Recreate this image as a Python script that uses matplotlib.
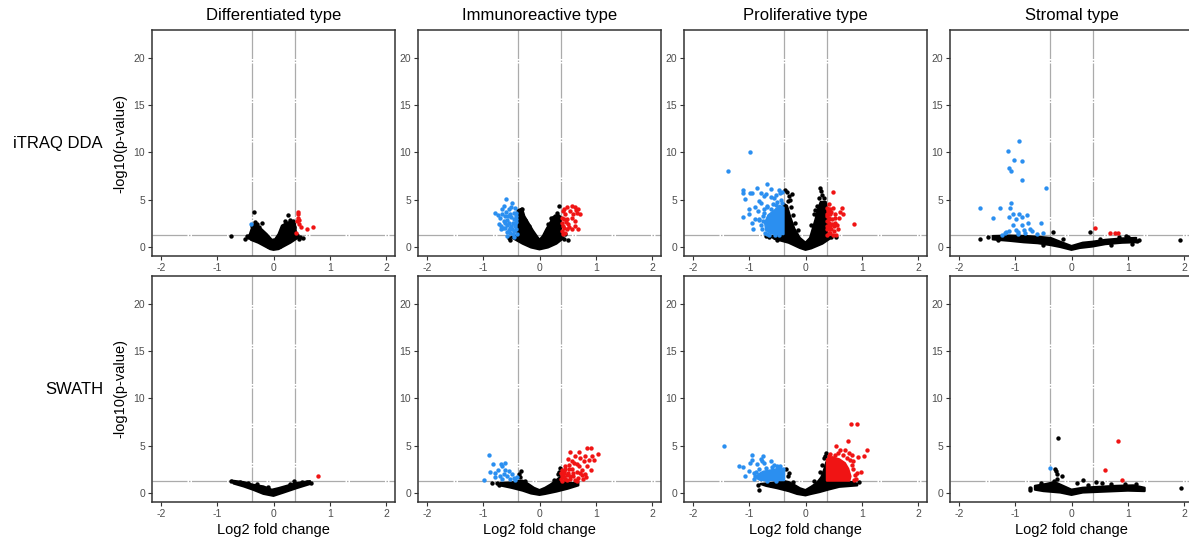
import matplotlib
matplotlib.use("Agg")
import matplotlib.pyplot as plt

plt.rcParams["font.family"] = ["Liberation Sans", "DejaVu Sans"]

COLUMNS = ["Differentiated type", "Immunoreactive type", "Proliferative type", "Stromal type"]
ROWS = ["iTRAQ DDA", "SWATH"]
X_TICKS = [-2, -1, 0, 1, 2]
Y_TICKS = [0, 5, 10, 15, 20]
FC_CUT = 0.38      # log2 fold change cut-off
P_CUT = 1.3        # -log10(0.05)

# ---------- iTRAQ DDA / Differentiated ----------
DIFF_DDA_CORE_X = [-0.38, -0.44, -0.40, -0.27, -0.06, 0.0, 0.09, 0.30, 0.44, 0.40, 0.38, 0.30, 0.24, 0.15, 0.09, 0.03, -0.03, -0.12, -0.21, -0.30, -0.36]
DIFF_DDA_CORE_Y = [2.1, 1.05, 0.8, 0.5, -0.17, -0.25, -0.17, 0.5, 1.05, 1.57, 2.5, 2.7, 2.6, 2.3, 1.4, 0.87, 0.8, 1.4, 1.9, 2.3, 2.4]
DIFF_DDA_BLACK_X = [-0.355, 0.25, -0.76, -0.5, -0.45, 0.52, -0.21, -0.30, 0.30, 0.35, -0.38, -0.42, 0.42, 0.46, -0.1, 0.12,
                    -0.33, -0.26, 0.2, 0.33, 0.37, -0.47, 0.47]
DIFF_DDA_BLACK_Y = [3.77, 3.4, 1.22, 0.94, 1.1, 0.98, 2.55, 2.5, 2.9, 2.8, 2.3, 1.3, 1.3, 0.9, 0.2, 0.2,
                    2.7, 2.2, 2.8, 2.6, 2.2, 1.2, 1.1]
DIFF_DDA_BLUE_X = [-0.4]
DIFF_DDA_BLUE_Y = [2.5]
DIFF_DDA_RED_X = [0.43, 0.43, 0.43, 0.41, 0.46, 0.49, 0.59, 0.70, 0.40, 0.45]
DIFF_DDA_RED_Y = [3.77, 3.49, 3.14, 2.8, 2.5, 2.2, 1.92, 2.16, 1.5, 2.9]

# ---------- iTRAQ DDA / Immunoreactive ----------
IMMU_DDA_CORE_X = [-0.39, -0.31, -0.27, -0.2, -0.12, -0.05, 0.0, 0.06, 0.12, 0.19, 0.24, 0.34, 0.38, 0.38, 0.43, 0.3, 0.15, 0.0, -0.15, -0.3, -0.45, -0.5, -0.39]
IMMU_DDA_CORE_Y = [3.9, 4.1, 3.3, 2.6, 1.8, 1.2, 0.8, 1.2, 1.9, 2.6, 3.2, 3.4, 3.2, 1.3, 1.0, 0.4, 0.0, -0.2, 0.0, 0.4, 0.9, 1.1, 1.3]
IMMU_DDA_BLACK_X = [-0.31, -0.35, 0.34, 0.43, 0.51, 0.46, -0.55, 0.28, 0.2, -0.25, 0.31, -0.18, 0.15, -0.52]
IMMU_DDA_BLACK_Y = [4.08, 3.7, 4.36, 0.94, 0.8, 1.4, 1.0, 3.3, 3.1, 2.9, 3.6, 2.3, 2.5, 0.8]
IMMU_DDA_BLUE_X = [-0.59, -0.49, -0.64, -0.79, -0.67, -0.55, -0.43, -0.61, -0.52, -0.70, -0.64, -0.46, -0.55, -0.68, -0.61, -0.49, -0.43, -0.52, -0.40, -0.58, -0.46,
                   -0.45, -0.5, -0.42, -0.57, -0.42, -0.5, -0.58, -0.45, -0.55, -0.62, -0.66, -0.72, -0.74, -0.42, -0.48, -0.56, -0.60, -0.41, -0.47, -0.53, -0.65, -0.68, -0.58, -0.42, -0.5, -0.44]
IMMU_DDA_BLUE_Y = [5.06, 4.64, 4.36, 3.6, 4.0, 4.0, 4.19, 3.3, 3.5, 3.14, 2.8, 2.97, 2.6, 2.27, 2.0, 1.92, 2.27, 1.57, 1.4, 1.22, 1.05,
                   3.6, 3.2, 3.3, 2.9, 2.7, 2.3, 2.4, 1.7, 1.8, 2.6, 3.5, 2.5, 3.4, 1.9, 2.6, 3.3, 3.7, 3.0, 1.4, 2.1, 2.1, 1.9, 1.6, 3.6, 4.3, 2.5]
IMMU_DDA_RED_X = [0.43, 0.49, 0.57, 0.63, 0.69, 0.72, 0.66, 0.54, 0.46, 0.40, 0.49, 0.57, 0.40, 0.51, 0.63, 0.43, 0.57, 0.68, 0.40, 0.49, 0.63,
                  0.44, 0.42, 0.47, 0.41, 0.45, 0.41, 0.53, 0.60, 0.64]
IMMU_DDA_RED_Y = [4.0, 4.29, 4.36, 4.29, 4.0, 3.5, 3.66, 3.84, 3.49, 3.14, 2.97, 3.14, 2.6, 2.44, 2.27, 2.1, 1.92, 1.92, 1.75, 1.92, 2.8,
                  3.0, 2.3, 2.7, 3.8, 1.5, 1.4, 2.2, 3.5, 3.9]

# ---------- iTRAQ DDA / Proliferative ----------
PROL_DDA_CORE_X = [-0.39, -0.33, -0.27, -0.2, -0.1, 0.0, 0.08, 0.13, 0.18, 0.22, 0.27, 0.36, 0.38, 0.38, 0.45, 0.3, 0.1, 0.0, -0.1, -0.3, -0.55, -0.62, -0.39]
PROL_DDA_CORE_Y = [4.6, 4.4, 3.2, 2.0, 1.0, 0.5, 1.0, 2.0, 3.0, 4.0, 4.8, 4.8, 4.0, 1.3, 1.0, 0.4, -0.1, -0.25, -0.05, 0.5, 0.9, 1.2, 1.3]
PROL_DDA_BLACK_X = [-0.36, -0.33, -0.30, -0.28, -0.24, -0.32, -0.26, 0.25, 0.28, 0.3, 0.24, 0.33, 0.2, 0.15, -0.22, -0.18, 0.45, 0.55, -0.65, -0.5,
                    -0.14, 0.1, 0.17, -0.7]
PROL_DDA_BLACK_Y = [6.1, 5.8, 5.4, 5.0, 5.6, 4.9, 4.3, 6.3, 5.9, 5.5, 5.2, 5.2, 4.4, 3.5, 3.4, 2.6, 1.1, 1.1, 1.1, 0.8,
                    1.8, 2.4, 3.9, 1.2]
PROL_DDA_BLUE_CORE_X = [-0.39, -0.39, -0.46, -0.55, -0.66, -0.72, -0.70, -0.6]
PROL_DDA_BLUE_CORE_Y = [1.4, 4.2, 4.4, 3.9, 3.4, 2.6, 1.8, 1.45]
PROL_DDA_BLUE_X = [-1.37, -0.98, -0.68, -0.86, -1.11, -1.12, -0.99, -0.95, -0.80, -0.71, -0.62, -0.47, -0.46, -1.07, -0.83, -0.74, -0.56, -1.0, -0.9, -1.0,
                   -1.11, -0.95, -0.93, -0.82, -0.80, -0.68, -0.62, -0.53, -0.44, -0.74,
                   -0.75, -0.8, -0.78, -0.74, -0.68, -0.58, -0.5, -0.42, -0.85, -0.83, -0.72, -0.65, -0.9, -0.62, -0.52, -0.41,
                   -0.55, -0.47, -0.69, -0.76]
PROL_DDA_BLUE_Y = [8.03, 10.05, 6.63, 6.28, 6.1, 5.7, 5.7, 5.7, 5.7, 5.6, 6.2, 6.1, 5.7, 5.13, 4.9, 5.4, 5.2, 4.1, 3.04, 3.5,
                   3.25, 2.6, 1.9, 3.0, 4.7, 4.4, 4.0, 4.5, 5.0, 3.66,
                   3.3, 2.4, 1.9, 4.0, 4.3, 4.6, 4.8, 4.7, 3.8, 2.9, 1.5, 1.3, 4.3, 5.3, 5.5, 5.8,
                   1.3, 1.35, 1.4, 2.8]
PROL_DDA_RED_X = [0.49, 0.41, 0.40, 0.44, 0.53, 0.62, 0.64, 0.67, 0.59, 0.47, 0.41, 0.50, 0.86, 0.41, 0.50, 0.44, 0.38, 0.53, 0.41, 0.44, 0.38,
                  0.39, 0.40, 0.39, 0.42, 0.39, 0.43, 0.39, 0.41, 0.39, 0.46, 0.47, 0.45, 0.48, 0.52, 0.56, 0.58, 0.54, 0.48]
PROL_DDA_RED_Y = [5.86, 4.54, 4.01, 3.49, 3.49, 3.73, 4.12, 3.56, 3.14, 2.97, 2.62, 2.27, 2.51, 1.92, 1.75, 1.5, 2.27, 2.62, 3.14, 4.0, 3.49,
                  4.2, 3.8, 3.3, 3.0, 2.8, 2.3, 1.9, 1.5, 1.35, 1.9, 2.5, 3.7, 4.2, 3.1, 2.4, 1.9, 1.35, 1.35]

# ---------- iTRAQ DDA / Stromal ----------
STRO_DDA_CORE_X = [-1.40, -1.1, -0.8, -0.55, -0.37, -0.2, 0.0, 0.2, 0.37, 0.6, 0.9, 1.15, 1.15, 0.9, 0.6, 0.37, 0.15, 0.0, -0.2, -0.37, -0.6, -0.85, -1.1, -1.4]
STRO_DDA_CORE_Y = [1.2, 1.25, 1.2, 1.1, 1.0, 0.6, 0.15, 0.5, 0.6, 0.8, 0.95, 1.0, 0.55, 0.5, 0.35, 0.1, -0.05, -0.25, 0.05, 0.25, 0.45, 0.55, 0.7, 0.85]
STRO_DDA_BLACK_X = [-1.62, -1.48, -0.33, 0.32, 1.93, 0.96, 1.08, 1.2, 1.17, 1.0, -1.3, 0.5, -0.15, 0.85, -0.5, 0.7]
STRO_DDA_BLACK_Y = [0.87, 1.05, 1.64, 1.64, 0.8, 1.22, 0.35, 0.8, 0.7, 1.1, 0.75, 0.9, 0.9, 1.1, 0.3, 0.3]
STRO_DDA_BLUE_X = [-0.93, -1.13, -1.02, -0.88, -1.12, -1.07, -0.88, -0.46, -1.62, -1.28, -1.07, -1.10, -1.40, -1.11, -1.04, -0.98, -0.93, -0.88,
                   -0.80, -1.04, -0.88, -0.78, -0.55, -1.16, -1.11, -0.99, -0.95, -0.85, -0.73, -0.70, -0.51, -0.96, -0.82, -0.61, -1.18, -1.23]
STRO_DDA_BLUE_Y = [11.17, 10.19, 9.25, 9.07, 8.38, 8.03, 7.09, 6.28, 4.19, 4.19, 4.64, 4.12, 3.07, 3.25, 3.49, 3.04, 3.49, 3.25,
                   3.39, 2.34, 2.34, 2.62, 2.62, 1.64, 1.75, 1.85, 1.64, 1.85, 1.99, 1.75, 1.5, 1.4, 1.5, 1.4, 1.5, 1.33]
STRO_DDA_RED_X = [0.41, 0.68, 0.77, 0.83]
STRO_DDA_RED_Y = [2.02, 1.54, 1.47, 1.47]

# ---------- SWATH / Differentiated ----------
DIFF_SW_CORE_X = [-0.74, -0.53, -0.36, -0.18, -0.03, 0.09, 0.24, 0.41, 0.65, 0.65, 0.41, 0.18, 0.0, -0.18, -0.36, -0.53, -0.71]
DIFF_SW_CORE_Y = [1.35, 1.19, 0.91, 0.74, 0.39, 0.56, 0.81, 1.09, 1.3, 1.0, 0.56, 0.1, -0.25, -0.04, 0.39, 0.74, 1.05]
DIFF_SW_BLACK_X = [-0.75, -0.6, 0.37, 0.6, 0.67, -0.45, 0.5, -0.3, 0.3, -0.1]
DIFF_SW_BLACK_Y = [1.3, 1.25, 1.3, 1.25, 1.15, 1.1, 1.2, 1.0, 1.0, 0.7]
DIFF_SW_RED_X = [0.79]
DIFF_SW_RED_Y = [1.79]

# ---------- SWATH / Immunoreactive ----------
IMMU_SW_CORE_X = [-0.7, -0.5, -0.38, -0.3, -0.2, -0.1, 0.0, 0.1, 0.2, 0.3, 0.38, 0.38, 0.55, 0.69, 0.69, 0.5, 0.3, 0.1, 0.0, -0.15, -0.3, -0.5, -0.7]
IMMU_SW_CORE_Y = [1.1, 1.15, 1.3, 1.35, 1.0, 0.6, 0.35, 0.6, 0.95, 1.4, 1.8, 1.25, 1.1, 1.15, 0.85, 0.5, 0.2, -0.05, -0.15, 0.0, 0.3, 0.6, 0.85]
IMMU_SW_BLACK_X = [-0.33, -0.36, -0.34, 0.37, 0.35, 0.32, -0.85, -0.76, -0.72, -0.25, 0.25]
IMMU_SW_BLACK_Y = [2.35, 2.0, 1.7, 2.7, 2.3, 2.0, 1.12, 1.05, 0.9, 1.3, 1.4]
IMMU_SW_BLUE_X = [-0.89, -0.83, -0.68, -0.62, -0.66, -0.73, -0.79, -0.88, -0.98, -0.61, -0.55, -0.64, -0.49, -0.70, -0.58, -0.46, -0.40, -0.52, -0.67, -0.79, -0.43]
IMMU_SW_BLUE_Y = [4.1, 3.05, 3.15, 3.22, 2.87, 2.52, 2.17, 2.28, 1.4, 2.52, 2.35, 2.1, 2.1, 1.82, 1.82, 1.65, 1.75, 1.54, 1.54, 1.75, 1.4]
IMMU_SW_RED_X = [0.54, 0.71, 0.84, 0.92, 1.04, 0.93, 0.81, 0.72, 0.63, 0.50, 0.57, 0.88, 0.96, 0.79, 0.66, 0.46, 0.84, 0.92, 0.75, 0.57, 0.43,
                 0.51, 0.66, 0.81, 0.40, 0.54, 0.69, 0.78, 0.46, 0.63, 0.40,
                 0.39, 0.41, 0.39, 0.44, 0.48, 0.45, 0.52, 0.55, 0.6, 0.6, 0.48, 0.52, 0.62, 0.70, 0.72, 0.75, 0.82, 0.66, 0.44, 0.40]
IMMU_SW_RED_Y = [4.34, 4.34, 4.8, 4.8, 4.2, 3.99, 3.92, 3.75, 3.99, 3.64, 3.4, 3.57, 3.5, 3.4, 3.05, 2.87, 2.87, 2.52, 2.52, 2.59, 2.35,
                 2.17, 2.24, 2.1, 1.82, 1.82, 1.65, 1.47, 1.47, 1.4, 1.3,
                 1.5, 2.0, 2.2, 1.7, 1.9, 2.6, 2.6, 1.5, 1.8, 2.2, 1.4, 3.0, 3.2, 2.9, 2.2, 1.9, 1.7, 1.35, 2.2, 2.5]

# ---------- SWATH / Proliferative ----------
PROL_SW_CORE_X = [-0.8, -0.6, -0.38, -0.3, -0.2, -0.1, 0.0, 0.1, 0.2, 0.28, 0.33, 0.37, 0.38, 0.6, 0.85, 0.92, 0.92, 0.6, 0.4, 0.25, 0.1, 0.0, -0.15, -0.3, -0.5, -0.7]
PROL_SW_CORE_Y = [1.0, 1.1, 1.3, 1.2, 0.9, 0.55, 0.35, 0.7, 1.1, 1.7, 2.5, 3.3, 1.3, 1.2, 1.2, 1.0, 0.85, 0.7, 0.4, 0.15, -0.05, -0.2, -0.05, 0.25, 0.55, 0.8]
PROL_SW_BLACK_X = [0.36, -0.83, -0.85, -0.35, -0.3, -0.32, 0.33, 0.35, 0.30, 0.25, 0.95, -0.62, 0.15, -0.22]
PROL_SW_BLACK_Y = [4.25, 0.39, 0.91, 2.6, 2.2, 1.8, 3.7, 3.9, 3.0, 2.3, 1.2, 0.9, 1.3, 1.2]
PROL_SW_BLUE_CORE_X = [-0.38, -0.38, -0.45, -0.55, -0.65, -0.75, -0.84, -0.86, -0.8]
PROL_SW_BLUE_CORE_Y = [1.4, 2.4, 2.7, 2.5, 2.4, 2.3, 2.0, 1.6, 1.4]
PROL_SW_BLUE_X = [-1.45, -0.95, -0.96, -0.75, -0.77, -0.98, -0.87, -0.62, -1.18, -1.11, -1.01, -0.92, -1.07, -0.56, -0.50, -0.74, -0.80,
                  -0.9, -0.88, -0.82, -0.7, -0.6, -0.45, -0.4, -0.92, -0.52, -0.68]
PROL_SW_BLUE_Y = [4.95, 4.07, 3.54, 3.96, 3.47, 3.19, 3.09, 3.37, 2.91, 2.77, 2.32, 2.14, 1.79, 3.02, 2.84, 3.22, 3.64,
                  1.8, 2.3, 2.6, 2.7, 2.8, 2.9, 2.6, 1.5, 1.32, 1.35]
PROL_SW_RED_CORE_X = [0.38, 0.38, 0.48, 0.6, 0.7, 0.76, 0.8, 0.78]
PROL_SW_RED_CORE_Y = [1.35, 3.6, 3.8, 3.6, 3.2, 2.6, 1.8, 1.35]
PROL_SW_RED_X = [0.81, 0.92, 0.75, 1.09, 0.55, 0.62, 0.70, 0.77, 1.04, 0.93, 0.83, 0.99, 0.91, 0.47, 0.86, 0.82, 0.85, 0.88, 0.84, 0.66, 0.58, 0.44, 0.90,
                 0.41, 0.52, 0.73, 0.79]
PROL_SW_RED_Y = [7.36, 7.36, 5.57, 4.62, 4.97, 4.62, 4.62, 4.27, 3.92, 3.85, 4.1, 2.24, 2.17, 3.75, 1.40, 3.0, 2.6, 1.9, 3.4, 4.1, 4.3, 4.2, 1.5,
                 3.9, 4.0, 3.7, 3.5]

# ---------- SWATH / Stromal ----------
STRO_SW_CORE_X = [-0.65, -0.45, -0.3, -0.15, 0.0, 0.2, 0.5, 0.8, 1.1, 1.3, 1.3, 1.0, 0.6, 0.2, 0.0, -0.2, -0.5, -0.65]
STRO_SW_CORE_Y = [0.8, 1.0, 1.2, 0.8, 0.4, 0.6, 0.7, 0.8, 0.85, 0.6, 0.25, 0.3, 0.2, 0.1, -0.15, 0.1, 0.25, 0.4]
STRO_SW_BLACK_X = [-0.24, -0.28, -0.25, -0.17, 0.20, 0.43, 0.54, -0.73, -0.73, 1.95, -0.30, -0.25, -0.32, 0.1, 1.15, 0.95, -0.55, 0.7, 0.3]
STRO_SW_BLACK_Y = [5.85, 2.35, 2.1, 1.82, 1.4, 1.23, 1.05, 0.6, 0.35, 0.6, 2.59, 1.54, 1.3, 1.1, 0.95, 1.0, 1.05, 1.0, 0.9]
STRO_SW_BLUE_X = [-0.39]
STRO_SW_BLUE_Y = [2.7]
STRO_SW_RED_X = [0.82, 0.60, 0.90]
STRO_SW_RED_Y = [5.5, 2.45, 1.37]

BLACK = "#000000"
BLUE = "#2b8ff0"
RED = "#f01414"
LINE = "#ababab"
PT = 10

panels = [
    [
        dict(core=(DIFF_DDA_CORE_X, DIFF_DDA_CORE_Y), black=(DIFF_DDA_BLACK_X, DIFF_DDA_BLACK_Y),
             blue=(DIFF_DDA_BLUE_X, DIFF_DDA_BLUE_Y), red=(DIFF_DDA_RED_X, DIFF_DDA_RED_Y)),
        dict(core=(IMMU_DDA_CORE_X, IMMU_DDA_CORE_Y), black=(IMMU_DDA_BLACK_X, IMMU_DDA_BLACK_Y),
             blue=(IMMU_DDA_BLUE_X, IMMU_DDA_BLUE_Y), red=(IMMU_DDA_RED_X, IMMU_DDA_RED_Y)),
        dict(core=(PROL_DDA_CORE_X, PROL_DDA_CORE_Y), black=(PROL_DDA_BLACK_X, PROL_DDA_BLACK_Y),
             blue_core=(PROL_DDA_BLUE_CORE_X, PROL_DDA_BLUE_CORE_Y),
             blue=(PROL_DDA_BLUE_X, PROL_DDA_BLUE_Y), red=(PROL_DDA_RED_X, PROL_DDA_RED_Y)),
        dict(core=(STRO_DDA_CORE_X, STRO_DDA_CORE_Y), black=(STRO_DDA_BLACK_X, STRO_DDA_BLACK_Y),
             blue=(STRO_DDA_BLUE_X, STRO_DDA_BLUE_Y), red=(STRO_DDA_RED_X, STRO_DDA_RED_Y)),
    ],
    [
        dict(core=(DIFF_SW_CORE_X, DIFF_SW_CORE_Y), black=(DIFF_SW_BLACK_X, DIFF_SW_BLACK_Y),
             red=(DIFF_SW_RED_X, DIFF_SW_RED_Y)),
        dict(core=(IMMU_SW_CORE_X, IMMU_SW_CORE_Y), black=(IMMU_SW_BLACK_X, IMMU_SW_BLACK_Y),
             blue=(IMMU_SW_BLUE_X, IMMU_SW_BLUE_Y), red=(IMMU_SW_RED_X, IMMU_SW_RED_Y)),
        dict(core=(PROL_SW_CORE_X, PROL_SW_CORE_Y), black=(PROL_SW_BLACK_X, PROL_SW_BLACK_Y),
             blue_core=(PROL_SW_BLUE_CORE_X, PROL_SW_BLUE_CORE_Y), blue=(PROL_SW_BLUE_X, PROL_SW_BLUE_Y),
             red_core=(PROL_SW_RED_CORE_X, PROL_SW_RED_CORE_Y), red=(PROL_SW_RED_X, PROL_SW_RED_Y)),
        dict(core=(STRO_SW_CORE_X, STRO_SW_CORE_Y), black=(STRO_SW_BLACK_X, STRO_SW_BLACK_Y),
             blue=(STRO_SW_BLUE_X, STRO_SW_BLUE_Y), red=(STRO_SW_RED_X, STRO_SW_RED_Y)),
    ],
]

W, H = 1189, 539
fig = plt.figure(figsize=(W / 100, H / 100), dpi=100)

col_left = [152, 418, 684, 950]
row_top = [30, 276]
ax_w, ax_h = 243, 226

for r in range(2):
    for c in range(4):
        p = panels[r][c]
        ax = fig.add_axes([col_left[c] / W, 1 - (row_top[r] + ax_h) / H, ax_w / W, ax_h / H])
        ax.set_xlim(-2.16, 2.16)
        ax.set_ylim(-0.9, 22.9)

        for v in (-FC_CUT, FC_CUT):
            ax.axvline(v, color=LINE, lw=0.9, dashes=(28, 1.2, 1.2, 1.2), zorder=1)
        ax.axhline(P_CUT, color=LINE, lw=0.9, dashes=(28, 1.2, 1.2, 1.2), zorder=1)

        # dense clouds of points drawn as filled outlines, sparse points on top
        ax.fill(*p["core"], color=BLACK, lw=1.6, joinstyle="round", zorder=2)
        ax.scatter(*p["black"], s=PT, color=BLACK, lw=0, zorder=3)
        if "blue_core" in p:
            ax.fill(*p["blue_core"], color=BLUE, lw=1.6, joinstyle="round", zorder=4)
        if "red_core" in p:
            ax.fill(*p["red_core"], color=RED, lw=1.6, joinstyle="round", zorder=4)
        if "blue" in p:
            ax.scatter(*p["blue"], s=PT, color=BLUE, lw=0, zorder=5)
        if "red" in p:
            ax.scatter(*p["red"], s=PT, color=RED, lw=0, zorder=5)

        ax.set_xticks(X_TICKS)
        ax.set_yticks(Y_TICKS)
        ax.set_xticklabels([str(t) for t in X_TICKS])
        ax.tick_params(length=3, width=0.8, color="#333333", labelsize=7.5, labelcolor="#4d4d4d", pad=2)
        for s in ax.spines.values():
            s.set_linewidth(1.1)
            s.set_color("#333333")

        if r == 0:
            ax.set_title(COLUMNS[c], fontsize=12, pad=7)
        if r == 1:
            ax.set_xlabel("Log2 fold change", fontsize=10.5, labelpad=3)
        if c == 0:
            ax.set_ylabel("-log10(p-value)", fontsize=10.5, labelpad=4)

fig.text(103 / W, 1 - 143 / H, ROWS[0], fontsize=12, ha="right", va="center")
fig.text(103 / W, 1 - 389 / H, ROWS[1], fontsize=12, ha="right", va="center")

fig.savefig("out.png", dpi=100)
